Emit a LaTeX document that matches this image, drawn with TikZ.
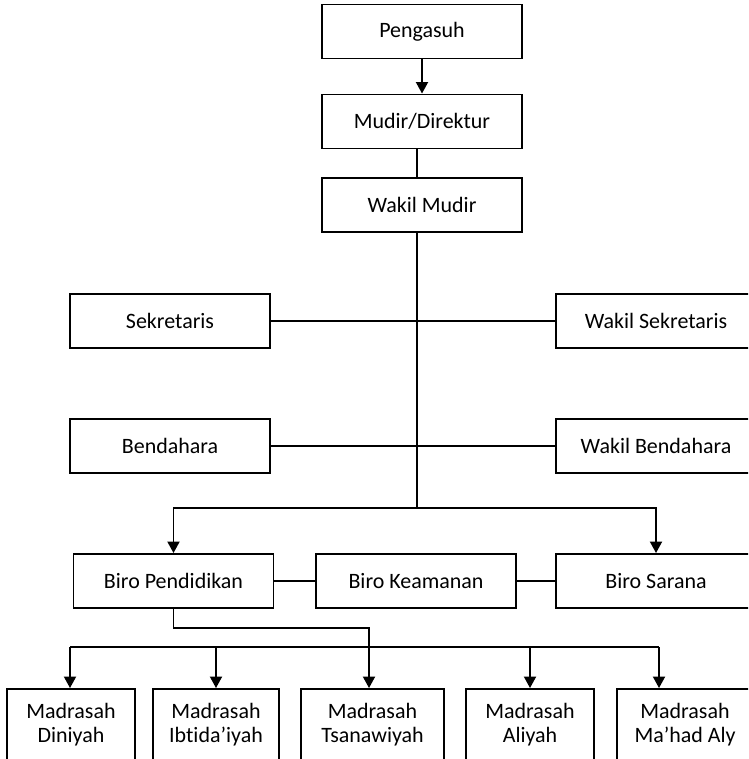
\documentclass[tikz,border=0pt]{standalone}
\usepackage{fontspec}
\setmainfont{Carlito}[Ligatures=NoCommon]
\usetikzlibrary{arrows.meta}
\tikzset{ unit/.style = { rectangle % one office
        , draw
        , line width = 1.1pt
        , minimum width = 4cm
        , minimum height = 1.08cm
        , inner sep = 0pt
        , font = \fontsize{12.5}{13.6}\selectfont
        }
        , school/.style = { unit % madrasah, two lines
        , align = center
        , minimum height = 1.44cm
        }
        }

\begin{document}
\begin{tikzpicture}[x=0.02cm, y=-0.02cm,
        edge_style/.style={draw=black, line width=1.1pt},
        arrow_style/.style={draw=black, line width=1.1pt, -{Triangle[width=0.24cm,length=0.23cm]}}]
        \useasboundingbox (0,0) rectangle (748,759);
        \clip (0,0) rectangle (748,759);

        \node [unit] (peng) at (422,31.5) {Pengasuh};
        \node [unit] (mud)  at (422,121.5) {Mudir/Direktur};
        \node [unit] (wmud) at (422,205) {Wakil Mudir};
        \node [unit] (sek)  at (170,321) {Sekretaris};
        \node [unit] (wsek) at (656,321) {Wakil Sekretaris};
        \node [unit] (ben)  at (170,446) {Bendahara};
        \node [unit] (wben) at (656,446) {Wakil Bendahara};
        \node [unit] (bpen) at (173.5,581) {Biro Pendidikan};
        \node [unit] (bkea) at (416,581) {Biro Keamanan};
        \node [unit] (bsar) at (656,581) {Biro Sarana};
        \node [school, minimum width=2.56cm] (din) at (71,725) {Madrasah\\Diniyah};
        \node [school, minimum width=2.52cm] (ibt) at (216,725) {Madrasah\\Ibtida'iyah};
        \node [school, minimum width=2.86cm] (tsa) at (372.5,725) {Madrasah\\Tsanawiyah};
        \node [school, minimum width=2.56cm] (ali) at (530,725) {Madrasah\\Aliyah};
        \node [school, minimum width=2.72cm] (mah) at (685,725) {Madrasah\\Ma'had Aly};

        \coordinate (hub)   at (417,508);
        \coordinate (elbow) at (369,628);
        \coordinate (busw)  at (70,647);
        \coordinate (buse)  at (659,647);

        \draw [arrow_style] (peng) -- (mud);
        \draw [edge_style] (mud.south -| hub) -- (wmud.north -| hub);
        \draw [edge_style] (wmud.south -| hub) -- (hub);
        \draw [edge_style] (sek) -- (wsek);
        \draw [edge_style] (ben) -- (wben);
        \draw [arrow_style] (hub) -| (bpen.north);
        \draw [arrow_style] (hub) -| (bsar.north);
        \draw [edge_style] (bpen) -- (bkea);
        \draw [edge_style] (bkea) -- (bsar);
        \draw [arrow_style] (bpen.south) |- (elbow) -- (elbow |- tsa.north);
        \draw [edge_style] (busw) -- (buse);
        \draw [arrow_style] (busw) -- (busw |- din.north);
        \foreach \m in {ibt, ali}
            \draw [arrow_style] (\m.north |- busw) -- (\m.north);
        \draw [arrow_style] (buse) -- (buse |- mah.north);
\end{tikzpicture}
\end{document}
